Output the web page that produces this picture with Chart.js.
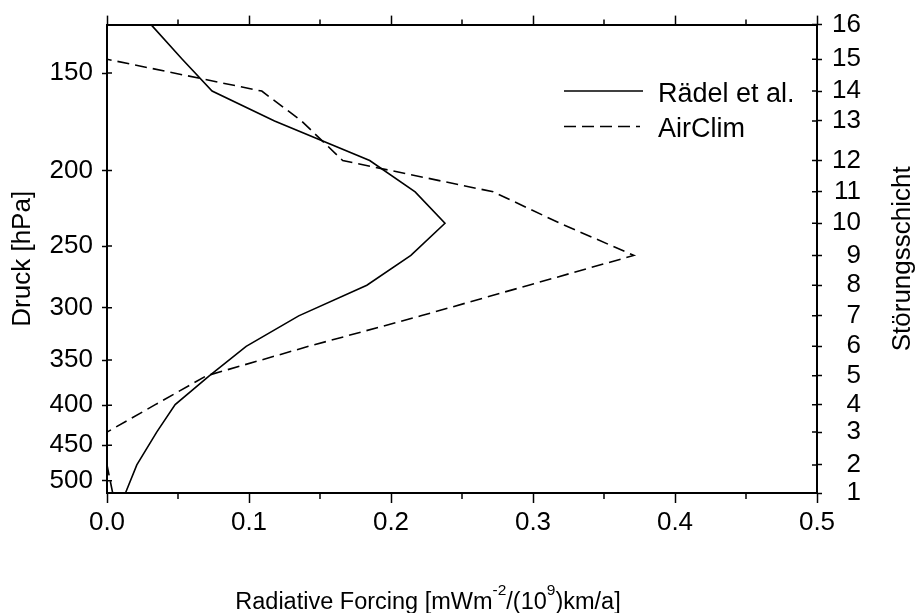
<!DOCTYPE html>
<html>
<head>
<meta charset="utf-8">
<title>Radiative Forcing</title>
<script src="https://cdn.jsdelivr.net/npm/chart.js@4.4.0/dist/chart.umd.min.js"></script>
<style>
  html, body { margin: 0; padding: 0; background: #fff; }
  canvas { display: block; }
</style>
</head>
<body>
<canvas id="myChart" width="919" height="613"></canvas>
<script>
// layers (right axis) and the pressure each one sits at [hPa]
var layerNumbers = [1, 2, 3, 4, 5, 6, 7, 8, 9, 10, 11, 12, 13, 14, 15, 16];
var layerPressure = [518.3, 477.1, 433.0, 399.3, 366.7, 336.1, 307.2, 280.6, 257.0, 233.7, 213.0, 194.2, 172.8, 158.2, 144.0, 130.0];

// left axis ticks
var pressureTicks = [150, 200, 250, 300, 350, 400, 450, 500];

// x axis ticks
var forcingTicks = [0, 0.1, 0.2, 0.3, 0.4, 0.5];
var forcingMinorTicks = [0.05, 0.15, 0.25, 0.35, 0.45];

// radiative forcing per layer 1..16
var raedel = [0.013, 0.021, 0.035, 0.048, 0.072, 0.098, 0.135, 0.183, 0.214, 0.238, 0.217, 0.185, 0.118, 0.074, 0.053, 0.031];
var airclim = [0.004, 0, 0, 0.034, 0.070, 0.142, 0.221, 0.297, 0.371, 0.319, 0.272, 0.166, 0.137, 0.109, 0, 0];

var FONT = 'Liberation Sans, Arial, Helvetica, sans-serif';
Chart.defaults.font.family = FONT;
Chart.defaults.color = '#000';

function toPoints(values) {
  return values.map(function (v, i) { return { x: v, y: layerPressure[i] }; });
}

// minor ticks, inner tick halves, legend, x title and right title
var extras = {
  id: 'extras',
  afterDraw: function (chart) {
    var ctx = chart.ctx;
    var area = chart.chartArea;
    var sx = chart.scales.x;
    var sy = chart.scales.y;
    var sr = chart.scales.yRight;
    ctx.save();
    ctx.strokeStyle = '#000';
    ctx.lineWidth = 1.5;
    ctx.beginPath();
    forcingMinorTicks.forEach(function (v) {
      var px = sx.getPixelForValue(v);
      ctx.moveTo(px, area.bottom);
      ctx.lineTo(px, area.bottom + 6);
      ctx.moveTo(px, area.top);
      ctx.lineTo(px, area.top - 5);
    });
    pressureTicks.forEach(function (p) {
      var py = sy.getPixelForValue(p);
      ctx.moveTo(area.left, py);
      ctx.lineTo(area.left + 5, py);
    });
    layerPressure.forEach(function (p) {
      var py = sr.getPixelForValue(p);
      ctx.moveTo(area.right - 5, py);
      ctx.lineTo(area.right, py);
    });
    ctx.stroke();

    // legend
    var rows = [91, 126.5];
    chart.data.datasets.forEach(function (ds, i) {
      ctx.beginPath();
      ctx.lineWidth = ds.borderWidth;
      ctx.setLineDash(ds.borderDash || []);
      ctx.moveTo(564, rows[i]);
      ctx.lineTo(i === 0 ? 643 : 640, rows[i]);
      ctx.stroke();
      ctx.setLineDash([]);
      ctx.fillStyle = '#000';
      ctx.font = '27px ' + FONT;
      ctx.textAlign = 'left';
      ctx.textBaseline = 'alphabetic';
      ctx.fillText(ds.label, 658, rows[i] + 10.5);
    });

    // x title with superscripts
    var parts = [
      ['Radiative Forcing [mWm', false],
      ['-2', true],
      ['/(10', false],
      ['9', true],
      [')km/a]', false]
    ];
    var big = '23.5px ' + FONT, small = '15.5px ' + FONT;
    var total = 0;
    parts.forEach(function (p) {
      ctx.font = p[1] ? small : big;
      total += ctx.measureText(p[0]).width;
    });
    var x = 428 - total / 2;
    var base = 609;
    parts.forEach(function (p) {
      ctx.font = p[1] ? small : big;
      ctx.fillText(p[0], x, p[1] ? base - 14 : base);
      x += ctx.measureText(p[0]).width;
    });

    // right title, reading upwards
    ctx.translate(903, (area.top + area.bottom) / 2);
    ctx.rotate(-Math.PI / 2);
    ctx.font = '26px ' + FONT;
    ctx.textAlign = 'center';
    ctx.textBaseline = 'middle';
    ctx.fillText('Störungsschicht', 0, 0);
    ctx.restore();
  }
};

function axisGrid(len) {
  return { display: true, drawOnChartArea: false, drawTicks: true, tickLength: len, tickColor: '#000', tickWidth: 1.5 };
}
var axisBorder = { display: true, color: '#000', width: 2 };

var ctx = document.getElementById('myChart');
var myChart = new Chart(ctx, {
  type: 'line',
  data: {
    datasets: [{
      label: 'Rädel et al.',
      data: toPoints(raedel),
      borderColor: '#000',
      borderWidth: 1.6,
      pointRadius: 0,
      tension: 0,
      xAxisID: 'x',
      yAxisID: 'y'
    }, {
      label: 'AirClim',
      data: toPoints(airclim),
      borderColor: '#000',
      borderWidth: 1.6,
      borderDash: [12, 6],
      pointRadius: 0,
      tension: 0,
      xAxisID: 'x',
      yAxisID: 'y'
    }]
  },
  options: {
    responsive: false,
    animation: false,
    devicePixelRatio: 1,
    layout: { padding: { left: 0, top: 0, bottom: 0, right: 58 } },
    plugins: { legend: { display: false }, tooltip: { enabled: false } },
    scales: {
      x: {
        type: 'linear', position: 'bottom', min: 0, max: 0.5,
        grid: axisGrid(10), border: axisBorder,
        afterBuildTicks: function (s) { s.ticks = forcingTicks.map(function (v) { return { value: v }; }); },
        afterFit: function (s) { s.height = 120; },
        ticks: { autoSkip: false, maxRotation: 0, padding: 4, font: { size: 26 },
          callback: function (v) { return Number(v).toFixed(1); } }
      },
      xTop: {
        type: 'linear', position: 'top', min: 0, max: 0.5,
        grid: axisGrid(9), border: axisBorder,
        afterBuildTicks: function (s) { s.ticks = forcingTicks.map(function (v) { return { value: v }; }); },
        afterFit: function (s) { s.height = 20; },
        ticks: { autoSkip: false, callback: function () { return ''; } }
      },
      y: {
        type: 'logarithmic', position: 'left', reverse: true,
        min: layerPressure[15], max: layerPressure[0],
        grid: axisGrid(5), border: axisBorder,
        afterBuildTicks: function (s) { s.ticks = pressureTicks.map(function (v) { return { value: v }; }); },
        afterFit: function (s) { s.width = 107; },
        ticks: { autoSkip: false, padding: 9, font: { size: 26 },
          callback: function (v) { return String(v); } },
        title: { display: true, text: 'Druck [hPa]', font: { size: 26 }, padding: { top: 7, bottom: 0 } }
      },
      yRight: {
        type: 'logarithmic', position: 'right', reverse: true,
        min: layerPressure[15], max: layerPressure[0],
        grid: axisGrid(5), border: axisBorder,
        afterBuildTicks: function (s) { s.ticks = layerPressure.map(function (v) { return { value: v }; }); },
        afterFit: function (s) { s.width = 44; },
        ticks: { autoSkip: false, crossAlign: 'far', font: { size: 26 },
          callback: function (v, i) { return String(layerNumbers[i]); } }
      }
    }
  },
  plugins: [extras]
});
</script>
</body>
</html>
